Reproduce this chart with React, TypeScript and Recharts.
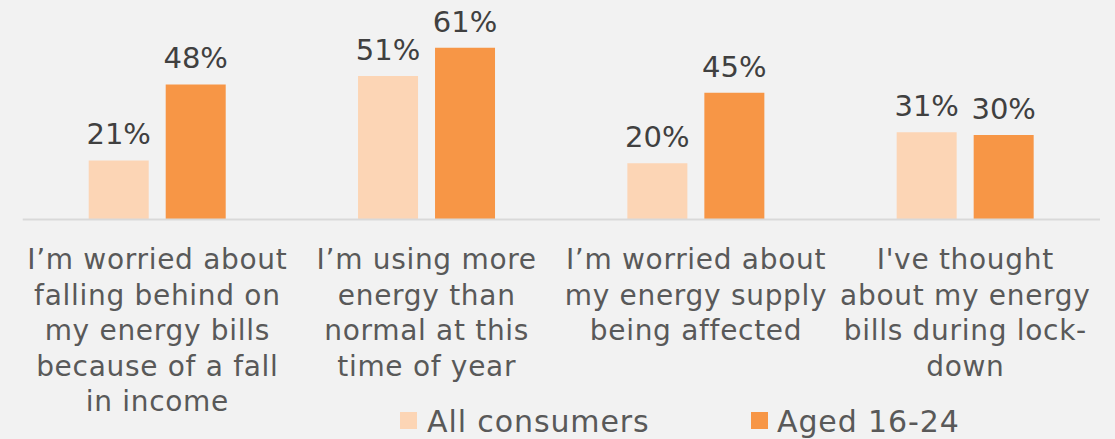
import React from 'react'
import { BarChart, Bar, XAxis, YAxis, LabelList } from 'recharts'

// categories and the way they are broken into lines under the axis
const categories = ['worried-bills', 'more-energy', 'worried-supply', 'thought-bills']
const tickLines = [
  ['I’m worried about', 'falling behind on', 'my energy bills', 'because of a fall', 'in income'],
  ['I’m using more', 'energy than', 'normal at this', 'time of year'],
  ['I’m worried about', 'my energy supply', 'being affected'],
  ["I've thought", 'about my energy', 'bills during lock-', 'down'],
]

const seriesNames = ['All consumers', 'Aged 16-24']
const seriesColors = ['#fcd5b5', '#f79646']
const allConsumers = [21, 51, 20, 31]
const aged1624 = [48, 61, 45, 30]

const data = categories.map((c, i) => ({
  name: c,
  all: allConsumers[i],
  young: aged1624[i],
}))

const FONT = '"DejaVu Sans", Verdana, sans-serif'

function CategoryTick({ x, y, payload }: any) {
  const lines = tickLines[categories.indexOf(payload.value)] || []
  return (
    <text
      x={x}
      y={y}
      textAnchor="middle"
      fill="#595959"
      fontSize={28}
      fontFamily={FONT}
      style={{ letterSpacing: 0.7 }}
    >
      {lines.map((l, i) => (
        <tspan key={i} x={x} y={y + 49.5 + i * 35.5}>{l}</tspan>
      ))}
    </text>
  )
}

const legendPos = [
  { box: 400, text: 427 },
  { box: 751, text: 777 },
]

export default function App() {
  return (
    <div style={{ position: 'absolute', left: 0, top: 0, width: 1115, height: 439, background: '#f2f2f2', overflow: 'hidden' }}>
      <BarChart
        width={1115}
        height={439}
        data={data}
        margin={{ top: 22.45, right: 15, left: 22.7, bottom: 19.5 }}
        barSize={60}
        barGap={17}
      >
        <XAxis
          dataKey="name"
          height={200}
          axisLine={{ stroke: '#d9d9d9', strokeWidth: 2 }}
          tickLine={false}
          tickSize={0}
          tickMargin={0}
          interval={0}
          tick={<CategoryTick />}
        />
        <YAxis hide domain={[0, 70]} />
        <Bar dataKey="all" fill={seriesColors[0]} isAnimationActive={false}>
          <LabelList
            dataKey="all"
            position="top"
            offset={16}
            formatter={(v: any) => `${v}%`}
            fill="#404040"
            fontSize={29}
            fontFamily={FONT}
          />
        </Bar>
        <Bar dataKey="young" fill={seriesColors[1]} isAnimationActive={false}>
          <LabelList
            dataKey="young"
            position="top"
            offset={16}
            formatter={(v: any) => `${v}%`}
            fill="#404040"
            fontSize={29}
            fontFamily={FONT}
          />
        </Bar>
      </BarChart>

      {seriesNames.map((s, i) => (
        <React.Fragment key={s}>
          <div style={{ position: 'absolute', left: legendPos[i].box, top: 412, width: 17, height: 17, background: seriesColors[i] }} />
          <div
            style={{
              position: 'absolute',
              left: legendPos[i].text,
              top: 406.6,
              fontFamily: FONT,
              fontSize: 30,
              lineHeight: 1,
              letterSpacing: 0.9,
              color: '#595959',
              whiteSpace: 'nowrap',
            }}
          >
            {s}
          </div>
        </React.Fragment>
      ))}
    </div>
  )
}
